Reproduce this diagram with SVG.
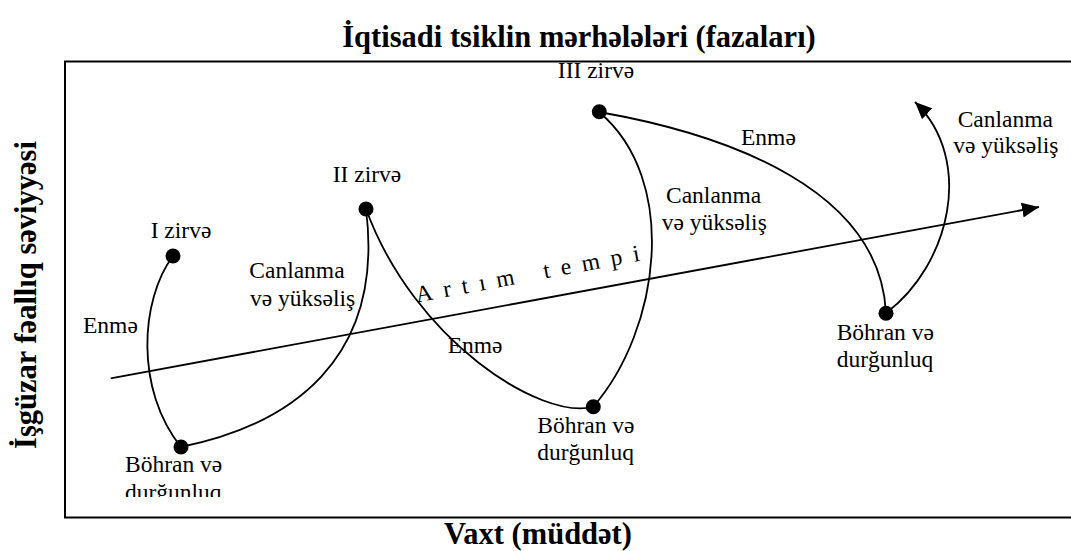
<svg xmlns="http://www.w3.org/2000/svg" width="1071" height="551" viewBox="0 0 1071 551">
<style>
.lbl{font-family:"Liberation Serif","Times New Roman",serif;font-size:23.5px;fill:#000}
.ttl{font-family:"Liberation Serif","Times New Roman",serif;font-size:30.5px;font-weight:bold;fill:#000}
.crv{fill:none;stroke:#000;stroke-width:1.8}
.dot{fill:#000}
</style>
<defs>
<marker id="ah" viewBox="0 0 17 15" refX="17" refY="7.5" markerWidth="17" markerHeight="15" markerUnits="userSpaceOnUse" orient="auto">
<path d="M0,0 L17,7.5 L0,15 z" fill="#000"/>
</marker>
<clipPath id="clipB"><rect x="0" y="0" width="1071" height="497"/></clipPath>
</defs>
<rect x="65" y="61.5" width="1020" height="456" fill="none" stroke="#000" stroke-width="2"/>
<text class="ttl" x="579" y="46.5" text-anchor="middle">İqtisadi tsiklin mərhələləri (fazaları)</text>
<text class="ttl" x="538" y="544" text-anchor="middle">Vaxt (müddət)</text>
<text class="ttl" x="0" y="0" text-anchor="middle" font-size="32.5" transform="translate(36,295) rotate(-90)">İşgüzar fəallıq səviyyəsi</text>
<g id="connectors">
<path class="crv" d="M110.7,378.3 L1039,207" marker-end="url(#ah)"/>
<path class="crv" d="M173,256 C140,300 135,390 181,447"/>
<path class="crv" d="M181,447 C290,425 385,360 366,209"/>
<path class="crv" d="M366,209 C414,340 540,420 593,407"/>
<path class="crv" d="M593,407 C660,330 680,180 599,112"/>
<path class="crv" d="M599,112 C730,135 880,190 886,313"/>
<path class="crv" d="M886,313 C950,265 975,160 915,102" marker-end="url(#ah)"/>
</g>
<g id="peak1"><circle class="dot" cx="173" cy="256" r="7.5"/><text class="lbl" x="181" y="237.7" text-anchor="middle">I zirvə</text></g>
<g id="peak2"><circle class="dot" cx="366" cy="209" r="7.5"/><text class="lbl" x="367" y="181.7" text-anchor="middle">II zirvə</text></g>
<g id="peak3"><circle class="dot" cx="599.3" cy="111.7" r="7.5"/><text class="lbl" x="596" y="78.3" text-anchor="middle">III zirvə</text></g>
<g id="crisis1"><circle class="dot" cx="181" cy="447" r="7.5"/><g clip-path="url(#clipB)"><text class="lbl" x="125" y="471.7">Böhran və</text><text class="lbl" x="125" y="499.5">durğunluq</text></g></g>
<g id="crisis2"><circle class="dot" cx="593.3" cy="406.7" r="7.5"/><text class="lbl" x="537.3" y="433.3">Böhran və</text><text class="lbl" x="537.3" y="460">durğunluq</text></g>
<g id="crisis3"><circle class="dot" cx="886" cy="313.3" r="7.5"/><text class="lbl" x="836.7" y="340">Böhran və</text><text class="lbl" x="836.7" y="366.7">durğunluq</text></g>
<g id="labels">
<text class="lbl" x="83" y="333.3">Enmə</text>
<text class="lbl" x="249.3" y="278.3">Canlanma</text>
<text class="lbl" x="250" y="306">və yüksəliş</text>
<text class="lbl" x="447.7" y="352.7">Enmə</text>
<text class="lbl" x="666" y="203.3">Canlanma</text>
<text class="lbl" x="661.7" y="230">və yüksəliş</text>
<text class="lbl" x="741" y="145">Enmə</text>
<text class="lbl" x="957.7" y="127.3">Canlanma</text>
<text class="lbl" x="953.3" y="153.3">və yüksəliş</text>
<text class="lbl" x="417" y="302.5" font-size="25" letter-spacing="11" word-spacing="2" transform="rotate(-10.6 417 302.5)">Artım tempi</text>
</g>
</svg>
